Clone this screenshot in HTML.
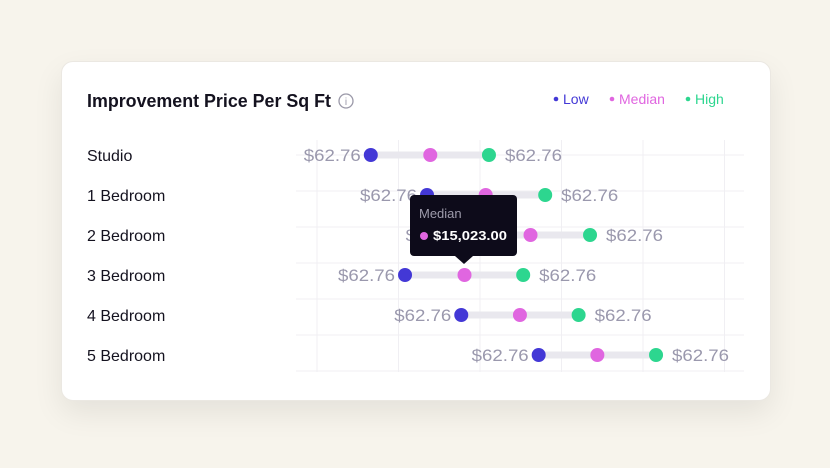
<!DOCTYPE html>
<html><head><meta charset="utf-8"><style>
body{margin:0;width:830px;height:468px;background:#f7f4ec;font-family:"Liberation Sans",sans-serif;overflow:hidden}
.card{position:absolute;left:61px;top:61px;width:708px;height:338px;background:#fff;border-radius:12px;border:1px solid #ebe8e2;box-shadow:0 12px 30px rgba(0,0,0,0.08)}
</style></head><body>
<div class="card"></div>
<svg width="830" height="468" style="position:absolute;left:0;top:0">
<text x="87" y="107" font-size="18" font-weight="600" fill="#14121f" textLength="244" lengthAdjust="spacingAndGlyphs">Improvement Price Per Sq Ft</text>
<g><circle cx="346" cy="101" r="7" fill="none" stroke="#9a98a8" stroke-width="1.3"/><text x="346" y="105" font-size="10" fill="#9a98a8" text-anchor="middle">i</text></g>
<g>
<circle cx="556" cy="99" r="2.3" fill="#4338d6"/><text x="563" y="104" font-size="14" fill="#4338d6">Low</text>
<circle cx="612" cy="99" r="2.3" fill="#e066e0"/><text x="619" y="104" font-size="14" fill="#e066e0">Median</text>
<circle cx="688" cy="99" r="2.3" fill="#2dd68f"/><text x="695" y="104" font-size="14" fill="#2dd68f">High</text>
</g>
<g id="grid"></g><g id="rows"></g>
<g>
<rect x="410" y="195" width="107" height="61" rx="4" fill="#0d0b1a"/>
<path d="M455 256 L464 264 L473 256 Z" fill="#0d0b1a"/>
<text x="419" y="218" font-size="13" fill="#9d9bab">Median</text>
<circle cx="424" cy="236" r="4" fill="#e066e0"/>
<text x="433" y="240" font-size="13" font-weight="bold" fill="#fff" textLength="74" lengthAdjust="spacingAndGlyphs">$15,023.00</text>
</g>
</svg>
<script>
const categories=["Studio","1 Bedroom","2 Bedroom","3 Bedroom","4 Bedroom","5 Bedroom"];
const lowValues=[66,135,191,108,177,272];
const medianValues=[139,207,262,181,249,344];
const highValues=[211,280,335,253,321,416];
const lowLabels=["$62.76","$62.76","$62.76","$62.76","$62.76","$62.76"];
const highLabels=["$62.76","$62.76","$62.76","$62.76","$62.76","$62.76"];
const xTicks=[0,100,200,300,400,500];
const NS="http://www.w3.org/2000/svg";
const x=v=>317+v*0.815;
const y=i=>155+i*40;
function mk(t,a,p){const e=document.createElementNS(NS,t);for(const k in a)e.setAttribute(k,a[k]);p.appendChild(e);return e;}
const grid=document.getElementById('grid'),rows=document.getElementById('rows');
xTicks.forEach(t=>{const l=mk('line',{x1:x(t),x2:x(t),y1:140,y2:372,stroke:'#f0eff3'},grid);

});
for(let k=0;k<7;k++){const l=mk('line',{x1:296,x2:744,y1:155+k*36,y2:155+k*36,stroke:'#f0eff3'},grid);

}
categories.forEach((c,i)=>{
const g=mk('g',{},rows);


const lab=mk('text',{x:87,y:y(i)+6,'font-size':16,fill:'#14121f'},g);lab.textContent=c;


const bar=mk('line',{x1:x(lowValues[i]),x2:x(highValues[i]),y1:y(i),y2:y(i),stroke:'#e9e8ee','stroke-width':7,'stroke-linecap':'round'},g);


const lt=mk('text',{x:x(lowValues[i])-10,y:y(i)+6,'font-size':17,fill:'#9a98ad','text-anchor':'end',textLength:57,lengthAdjust:'spacingAndGlyphs'},g);lt.textContent=lowLabels[i];


const ht=mk('text',{x:x(highValues[i])+16,y:y(i)+6,'font-size':17,fill:'#9a98ad',textLength:57,lengthAdjust:'spacingAndGlyphs'},g);ht.textContent=highLabels[i];


[[lowValues,'#4338d6','low-point'],[medianValues,'#e066e0','median-point'],[highValues,'#2dd68f','high-point']].forEach(([arr,col,n])=>{
const p=mk('circle',{cx:x(arr[i]),cy:y(i),r:7,fill:col},g);

});
});
</script>
</body></html>
